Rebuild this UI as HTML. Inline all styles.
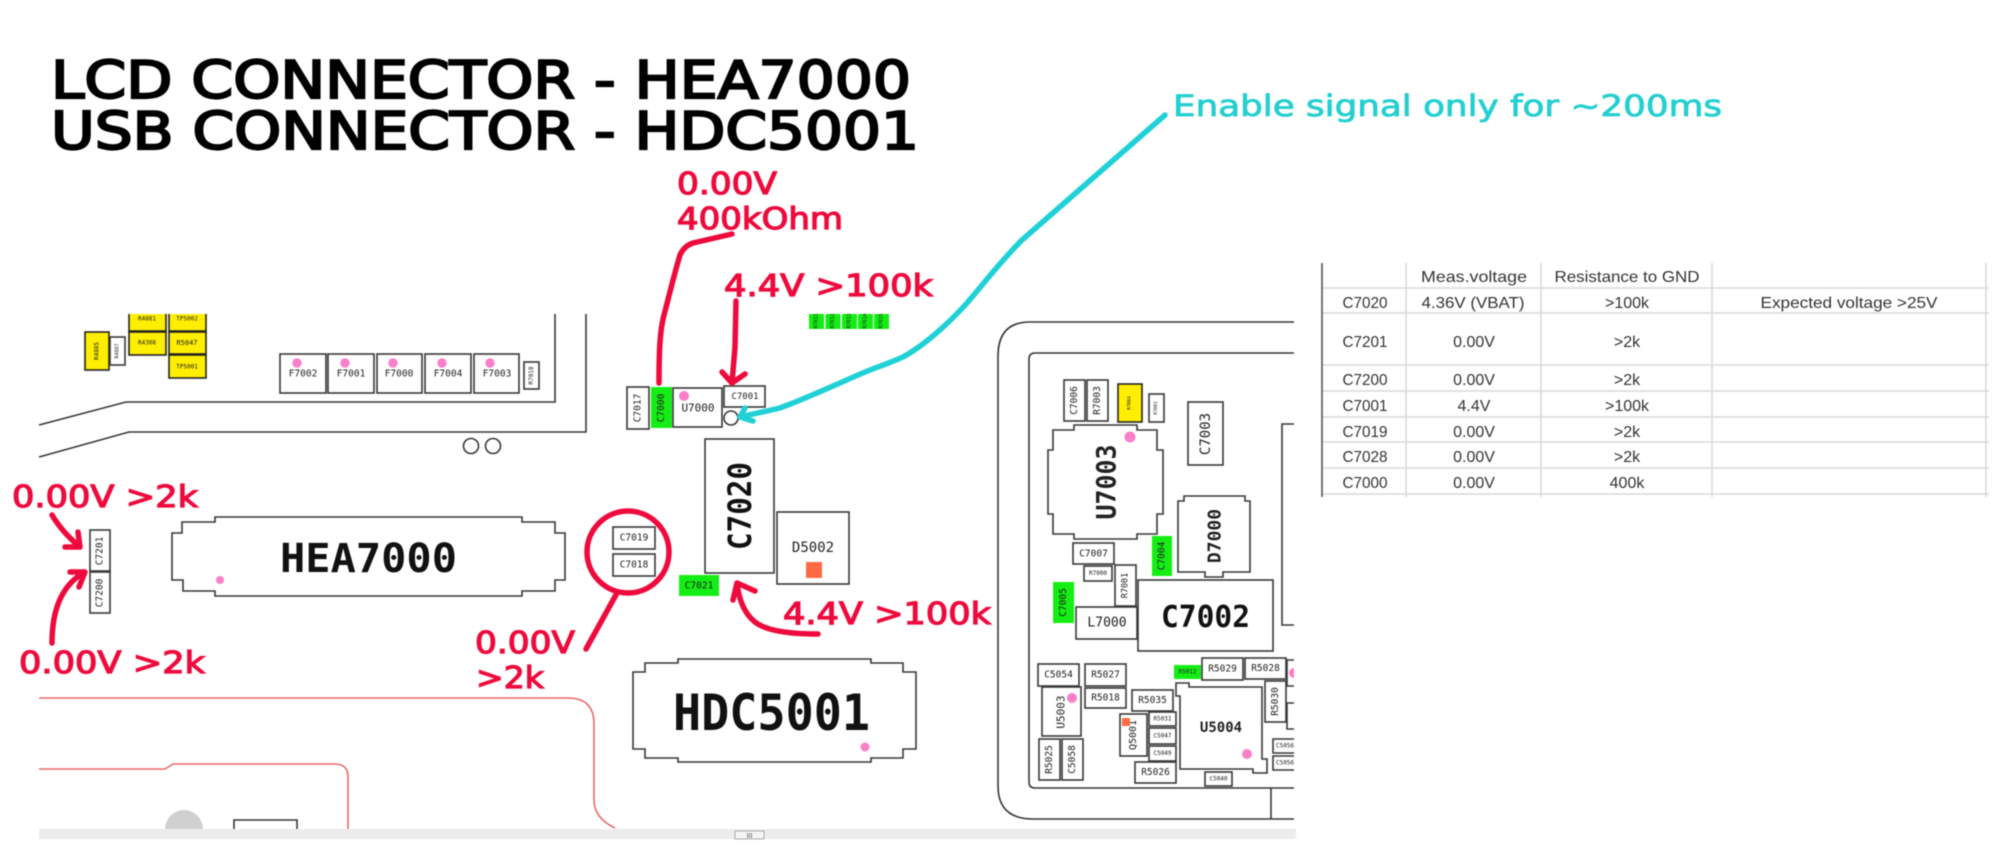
<!DOCTYPE html>
<html><head><meta charset="utf-8"><title>LCD and USB connector measurements</title>
<style>
html,body{margin:0;padding:0;background:#fff;width:2000px;height:857px;overflow:hidden}
svg{display:block;filter:blur(.45px)}
.b{fill:#fff;stroke:#383838;stroke-width:1.6}
.y{fill:#ffee00;stroke:#222;stroke-width:1.6}
.g{fill:#14ee14;stroke:none}
.l{fill:none;stroke:#383838;stroke-width:1.6}
.p{fill:#fb7fc8}
.o{fill:#ff6a45}
.m{font-family:"DejaVu Sans Mono","Liberation Mono",monospace;fill:#222;text-anchor:middle;dominant-baseline:central;font-size:9.5px}
.s{font-size:6px}
.k{font-weight:bold;fill:#111;text-anchor:start;dominant-baseline:auto}
.r{font-family:"DejaVu Sans","Liberation Sans",sans-serif;fill:#ee0a3c;font-size:30px;stroke:#ee0a3c;stroke-width:1.2}
.h{font-family:"DejaVu Sans","Liberation Sans",sans-serif;fill:#000;font-size:52px;stroke:#000;stroke-width:2.2}
.c{font-family:"DejaVu Sans","Liberation Sans",sans-serif;fill:#25cfd0;font-size:29px;stroke:#25cfd0;stroke-width:.8}
.rl{fill:none;stroke:#ee0a3c;stroke-width:5.5;stroke-linecap:round;stroke-linejoin:round}
.tl{fill:none;stroke:#1fd1d6;stroke-width:5.5;stroke-linecap:round;stroke-linejoin:round}
.pl{fill:none;stroke:#e86a6a;stroke-width:1.6}
.tg{stroke:#d9d9d9;stroke-width:1.6}
.tt{font-family:"Liberation Sans",sans-serif;font-size:16px;fill:#333;text-anchor:middle}
</style></head><body>
<svg width="2000" height="857" viewBox="0 0 2000 857" xmlns="http://www.w3.org/2000/svg">
<rect width="2000" height="857" fill="#fff"/>

<text class="h" x="51" y="98" textLength="860" lengthAdjust="spacingAndGlyphs">LCD CONNECTOR - HEA7000</text>
<text class="h" x="51" y="149" textLength="868" lengthAdjust="spacingAndGlyphs">USB CONNECTOR - HDC5001</text>
<text class="c" x="1173" y="116" textLength="549" lengthAdjust="spacingAndGlyphs">Enable signal only for ~200ms</text>

<!-- left yellow group -->
<rect class="y" x="85" y="332" width="24" height="38"/><text class="m s" transform="translate(97 351) rotate(-90)">R4885</text>
<rect class="b" x="110" y="337" width="15" height="28"/><text class="m s" transform="translate(117.5 351) rotate(-90)" style="font-size:5px">R4887</text>
<path class="y" d="M129 314V331H166V314"/><text class="m s" x="147" y="319">R4881</text>
<path class="y" d="M169 314V331H206V314"/><text class="m s" x="187" y="319">TP5002</text>
<rect class="y" x="129" y="332" width="37" height="23"/><text class="m s" x="147" y="343">R4308</text>
<rect class="y" x="169" y="332" width="37" height="22"/><text class="m" style="font-size:7px" x="187" y="343">R5047</text>
<rect class="y" x="169" y="355" width="37" height="23"/><text class="m s" x="187" y="367">TP5001</text>

<!-- F row -->
<rect class="b" x="280" y="354" width="46" height="39"/><circle class="p" cx="297" cy="363" r="4.7"/><text class="m" x="303" y="374">F7002</text>
<rect class="b" x="328" y="354" width="46" height="39"/><circle class="p" cx="345" cy="363" r="4.7"/><text class="m" x="351" y="374">F7001</text>
<rect class="b" x="377" y="354" width="45" height="39"/><circle class="p" cx="393" cy="363" r="4.7"/><text class="m" x="399" y="374">F7000</text>
<rect class="b" x="425" y="354" width="46" height="39"/><circle class="p" cx="442" cy="363" r="4.7"/><text class="m" x="448" y="374">F7004</text>
<rect class="b" x="474" y="354" width="45" height="39"/><circle class="p" cx="490" cy="363" r="4.7"/><text class="m" x="497" y="374">F7003</text>
<rect class="b" x="524" y="362" width="15" height="27"/><text class="m s" transform="translate(531.5 375.5) rotate(-90)">R7018</text>

<!-- board edge lines -->
<path class="l" d="M39 425L126 402H555V314"/>
<path class="l" d="M39 457L129 432H586V314"/>
<circle class="l" cx="471" cy="446" r="7.5"/><circle class="l" cx="493" cy="446" r="7.5"/>

<!-- C7200/C7201 -->
<rect class="b" x="90" y="530" width="20" height="41"/><text class="m" transform="translate(100 551) rotate(-90)">C7201</text>
<rect class="b" x="90" y="572" width="20" height="41"/><text class="m" transform="translate(100 593) rotate(-90)">C7200</text>

<!-- HEA7000 -->
<path class="l" d="M215 517H522V522H555V533H565V580H555V591H522V596H215V591H183V580H172V533H182V522H215Z"/>
<text class="m k" x="280" y="572" style="font-size:40px" textLength="177" lengthAdjust="spacingAndGlyphs">HEA7000</text>
<circle class="p" cx="220" cy="580" r="4"/>

<!-- centre components -->
<rect class="b" x="627" y="387" width="22" height="42"/><text class="m" transform="translate(638 408) rotate(-90)">C7017</text>
<rect class="g" x="651" y="387" width="21" height="41"/><text class="m" transform="translate(661.5 408) rotate(-90)">C7000</text>
<rect class="b" x="673" y="388" width="49" height="39"/><circle class="p" cx="684" cy="396" r="5"/><text class="m" x="698" y="408" style="font-size:11px">U7000</text>
<rect class="b" x="724" y="386" width="41" height="21"/><text class="m" x="745" y="397" style="font-size:9px">C7001</text>
<circle class="l" cx="731" cy="418" r="7"/>
<g fill="#12ee12"><rect x="809" y="314" width="15" height="15"/><rect x="825.5" y="314" width="15" height="15"/><rect x="842" y="314" width="15" height="15"/><rect x="858" y="314" width="15" height="15"/><rect x="874" y="314" width="15" height="15"/></g>
<g class="m" style="font-size:5px"><text class="m" style="font-size:5px" transform="translate(816.5 321) rotate(-90)">R7011</text><text class="m" style="font-size:5px" transform="translate(833 321) rotate(-90)">R7012</text><text class="m" style="font-size:5px" transform="translate(849.5 321) rotate(-90)">R7013</text><text class="m" style="font-size:5px" transform="translate(865.5 321) rotate(-90)">R7014</text><text class="m" style="font-size:5px" transform="translate(881.5 321) rotate(-90)">R7015</text></g>

<rect class="b" x="705" y="439" width="69" height="134"/>
<text class="m k" style="font-size:32px;text-anchor:middle;dominant-baseline:central" transform="translate(740 506) rotate(-90)" textLength="88" lengthAdjust="spacingAndGlyphs">C7020</text>
<rect class="b" x="777" y="512" width="72" height="72"/><text class="m" x="813" y="548" style="font-size:14px">D5002</text><rect class="o" x="806" y="562" width="16" height="16"/>
<rect class="b" x="613" y="527" width="42" height="22"/><text class="m" x="634" y="538">C7019</text>
<rect class="b" x="613" y="554" width="42" height="22"/><text class="m" x="634" y="565">C7018</text>
<rect class="g" x="679" y="575" width="40" height="21"/><text class="m" x="699" y="586">C7021</text>

<!-- HDC5001 -->
<path class="l" d="M678 659H871V663H903V672H916V749H903V758H871V762H678V758H645V749H633V672H645V663H678Z"/>
<text class="m k" x="673" y="730" style="font-size:50px" textLength="197" lengthAdjust="spacingAndGlyphs">HDC5001</text>
<circle class="p" cx="865" cy="747" r="4.5"/>

<!-- pink lines -->
<path class="pl" d="M39 698H568Q594 698 594 724V800Q594 818 615 828"/>
<path class="pl" d="M39 769H165L173 764H335Q348 764 348 777V829"/>
<path d="M165 829A19 19 0 1 1 203 829Z" fill="#d0d0d0"/>
<path class="l" d="M234 829V820H297V829"/>

<!-- right board -->
<path class="l" d="M1294 322H1030Q998 322 998 356V786Q998 819 1033 819H1294"/>
<path class="l" d="M1294 353H1035Q1029 353 1029 359V782Q1029 788 1035 788H1294"/>
<path class="l" d="M1271 788V819"/>
<path class="l" d="M1294 424H1282V625H1294"/>
<rect class="b" x="1064" y="380" width="21" height="41"/><text class="m" transform="translate(1074.5 400.5) rotate(-90)">C7006</text>
<rect class="b" x="1087" y="380" width="21" height="41"/><text class="m" transform="translate(1097.5 400.5) rotate(-90)">R7003</text>
<rect class="y" x="1118" y="384" width="24" height="38"/><text class="m s" style="font-size:4.5px" transform="translate(1130 403) rotate(-90)">R7004</text>
<rect class="b" x="1149" y="394" width="15" height="28"/><text class="m s" style="font-size:4.5px" transform="translate(1156.5 408) rotate(-90)">R7002</text>
<rect class="b" x="1188" y="402" width="35" height="63"/><text class="m" style="font-size:14px" transform="translate(1206 434) rotate(-90)">C7003</text>
<polygon class="b" points="1074,425 1137,425 1137,430 1157,430 1157,450 1163,450 1163,514 1157,514 1157,534 1137,534 1137,539 1074,539 1074,534 1053,534 1053,514 1048,514 1048,450 1053,450 1053,430 1074,430"/>
<circle class="p" cx="1130" cy="437" r="5.5"/>
<text class="m" style="font-size:27px;font-weight:bold" transform="translate(1107 482) rotate(-90)" textLength="75" lengthAdjust="spacingAndGlyphs">U7003</text>
<rect class="g" x="1152" y="536" width="20" height="40"/><text class="m" transform="translate(1162 556) rotate(-90)">C7004</text>
<polygon class="b" points="1184,496 1245,496 1245,501 1250,501 1250,572 1223,572 1223,577 1205,577 1205,572 1178,572 1178,501 1184,501"/>
<text class="m" style="font-size:18px;font-weight:bold" transform="translate(1215 536) rotate(-90)">D7000</text>
<rect class="b" x="1073" y="543" width="41" height="21"/><text class="m" x="1093.5" y="554">C7007</text>
<rect class="b" x="1084" y="566" width="28" height="15"/><text class="m s" x="1098" y="573.5">R7000</text>
<rect class="b" x="1115" y="565" width="21" height="41"/><text class="m" style="font-size:8.5px" transform="translate(1125.5 585.5) rotate(-90)">R7001</text>
<rect class="g" x="1053" y="582" width="21" height="41"/><text class="m" transform="translate(1063.5 602.5) rotate(-90)">C7005</text>
<rect class="b" x="1138" y="580" width="135" height="71"/><text class="m k" x="1161" y="627" style="font-size:30px" textLength="89" lengthAdjust="spacingAndGlyphs">C7002</text>
<rect class="b" x="1076" y="607" width="61" height="32"/><text class="m" x="1107" y="623" style="font-size:13px">L7000</text>

<rect class="b" x="1038" y="664" width="41" height="22"/><text class="m" x="1058.5" y="675">C5054</text>
<rect class="b" x="1085" y="664" width="41" height="22"/><text class="m" x="1105.5" y="675">R5027</text>
<rect class="b" x="1042" y="687" width="39" height="49"/><text class="m" style="font-size:11px" transform="translate(1061 712) rotate(-90)">U5003</text><circle class="p" cx="1072" cy="698" r="5"/>
<rect class="b" x="1085" y="688" width="41" height="20"/><text class="m" x="1105.5" y="698">R5018</text>
<rect class="b" x="1039" y="739" width="21" height="41"/><text class="m" transform="translate(1049.5 759.5) rotate(-90)">R5025</text>
<rect class="b" x="1062" y="739" width="21" height="41"/><text class="m" transform="translate(1072.5 759.5) rotate(-90)">C5058</text>
<rect class="b" x="1120" y="714" width="27" height="42"/><text class="m" style="font-size:10px" transform="translate(1133.5 735) rotate(-90)">Q5001</text><rect class="o" x="1122" y="718" width="8" height="8"/>
<rect class="b" x="1132" y="690" width="41" height="21"/><text class="m" x="1152.5" y="700.5">R5035</text>
<rect class="b" x="1149" y="712" width="27" height="14"/><text class="m s" x="1162.5" y="719">R5031</text>
<rect class="b" x="1149" y="728" width="27" height="16"/><text class="m s" x="1162.5" y="736">C5047</text>
<rect class="b" x="1149" y="746" width="27" height="15"/><text class="m s" x="1162.5" y="753.5">C5049</text>
<rect class="b" x="1135" y="762" width="41" height="21"/><text class="m" x="1155.5" y="772.5">R5026</text>
<rect class="g" x="1174" y="665" width="27" height="14"/><text class="m s" x="1187.5" y="672">R5012</text>
<rect class="b" x="1202" y="658" width="41" height="22"/><text class="m" x="1222.5" y="669">R5029</text>
<rect class="b" x="1245" y="658" width="41" height="21"/><text class="m" x="1265.5" y="668.5">R5028</text>
<path class="l" d="M1294 660H1287V686H1294"/><path class="p" d="M1294 668A5 5 0 0 0 1294 678Z"/>
<path class="l" d="M1294 703H1287V729H1294"/>
<rect class="b" x="1265" y="681" width="21" height="41"/><text class="m" transform="translate(1275.5 701.5) rotate(-90)">R5030</text>
<polygon class="b" points="1176,683 1189,683 1189,687 1262,687 1262,759 1267,759 1267,773 1253,773 1253,769 1180,769 1180,696 1176,696"/>
<text class="m" x="1221" y="728" style="font-size:14px;font-weight:bold">U5004</text><circle class="p" cx="1247" cy="754" r="5"/>
<rect class="b" x="1205" y="772" width="27" height="14"/><text class="m s" x="1218.5" y="779">C5040</text>
<path class="l" d="M1294 739H1273V753H1294"/><text class="m s" x="1285" y="746">C5056</text>
<path class="l" d="M1294 756H1273V770H1294"/><text class="m s" x="1285" y="763">C5056</text>

<!-- bottom grey bar -->
<rect x="39" y="829" width="1257" height="10" fill="#ececec"/>
<rect x="735" y="831" width="29" height="8" fill="#f4f4f4" stroke="#aaa"/>
<text x="749.5" y="838" font-family="Liberation Sans,sans-serif" font-size="7" text-anchor="middle" fill="#555">III</text>

<!-- red annotations -->
<text class="r" x="677" y="194" textLength="100" lengthAdjust="spacingAndGlyphs">0.00V</text>
<text class="r" x="677" y="229" textLength="166" lengthAdjust="spacingAndGlyphs">400kOhm</text>
<text class="r" x="724" y="296" textLength="209" lengthAdjust="spacingAndGlyphs">4.4V &gt;100k</text>
<text class="r" x="12" y="507" textLength="186" lengthAdjust="spacingAndGlyphs">0.00V &gt;2k</text>
<text class="r" x="19" y="673" textLength="186" lengthAdjust="spacingAndGlyphs">0.00V &gt;2k</text>
<text class="r" x="783" y="624" textLength="208" lengthAdjust="spacingAndGlyphs">4.4V &gt;100k</text>
<text class="r" x="475" y="653" textLength="100" lengthAdjust="spacingAndGlyphs">0.00V</text>
<text class="r" x="476" y="688" textLength="68" lengthAdjust="spacingAndGlyphs">&gt;2k</text>

<path class="rl" d="M659 383C659 350 660 330 664 315C668 300 674 275 680 255Q684 246 693 243L732 234"/>
<path class="rl" d="M736 301L735 347L732 383M722 372L732 383L745 374"/>
<path class="rl" d="M52 515Q62 532 80 547M65 547L80 547L78 532"/>
<path class="rl" d="M52 643Q52 590 85 572M70 572L85 572L79 587"/>
<ellipse class="rl" cx="628" cy="552" rx="41" ry="41"/>
<path class="rl" d="M617 593L586 649"/>
<path class="rl" d="M818 634Q770 634 755 622Q740 610 737 583M733 600L737 583L755 591"/>

<!-- teal arrow -->
<path class="tl" d="M1165 115L1022 240C1000 262 985 282 967 303C950 322 925 345 903 357C885 365 880 366 870 370C850 378 830 388 793 403Q785 406 780 408L740 417M745 408L740 417L753 421"/>

<!-- table -->
<g class="tg">
<line x1="1406" y1="263" x2="1406" y2="497"/><line x1="1541" y1="263" x2="1541" y2="497"/><line x1="1712" y1="263" x2="1712" y2="497"/><line x1="1986" y1="263" x2="1986" y2="497"/>
<line x1="1322" y1="288" x2="1989" y2="288"/><line x1="1322" y1="313" x2="1989" y2="313"/><line x1="1322" y1="365" x2="1989" y2="365"/><line x1="1322" y1="391" x2="1989" y2="391"/><line x1="1322" y1="417" x2="1989" y2="417"/><line x1="1322" y1="442" x2="1989" y2="442"/><line x1="1322" y1="468" x2="1989" y2="468"/><line x1="1322" y1="494" x2="1989" y2="494"/>
</g>
<line x1="1322" y1="263" x2="1322" y2="497" stroke="#555" stroke-width="1.6"/>
<text class="tt" x="1474" y="282" textLength="106" lengthAdjust="spacingAndGlyphs">Meas.voltage</text>
<text class="tt" x="1627" y="282" textLength="145" lengthAdjust="spacingAndGlyphs">Resistance to GND</text>
<text class="tt" x="1365" y="308" textLength="45" lengthAdjust="spacingAndGlyphs">C7020</text><text class="tt" x="1473" y="308" textLength="103" lengthAdjust="spacingAndGlyphs">4.36V (VBAT)</text><text class="tt" x="1627" y="308">&gt;100k</text><text class="tt" x="1849" y="308" textLength="177" lengthAdjust="spacingAndGlyphs">Expected voltage &gt;25V</text>
<text class="tt" x="1365" y="347" textLength="45" lengthAdjust="spacingAndGlyphs">C7201</text><text class="tt" x="1474" y="347">0.00V</text><text class="tt" x="1627" y="347">&gt;2k</text>
<text class="tt" x="1365" y="385" textLength="45" lengthAdjust="spacingAndGlyphs">C7200</text><text class="tt" x="1474" y="385">0.00V</text><text class="tt" x="1627" y="385">&gt;2k</text>
<text class="tt" x="1365" y="411" textLength="45" lengthAdjust="spacingAndGlyphs">C7001</text><text class="tt" x="1474" y="411">4.4V</text><text class="tt" x="1627" y="411">&gt;100k</text>
<text class="tt" x="1365" y="437" textLength="45" lengthAdjust="spacingAndGlyphs">C7019</text><text class="tt" x="1474" y="437">0.00V</text><text class="tt" x="1627" y="437">&gt;2k</text>
<text class="tt" x="1365" y="462" textLength="45" lengthAdjust="spacingAndGlyphs">C7028</text><text class="tt" x="1474" y="462">0.00V</text><text class="tt" x="1627" y="462">&gt;2k</text>
<text class="tt" x="1365" y="488" textLength="45" lengthAdjust="spacingAndGlyphs">C7000</text><text class="tt" x="1474" y="488">0.00V</text><text class="tt" x="1627" y="488">400k</text>
</svg>
</body></html>
